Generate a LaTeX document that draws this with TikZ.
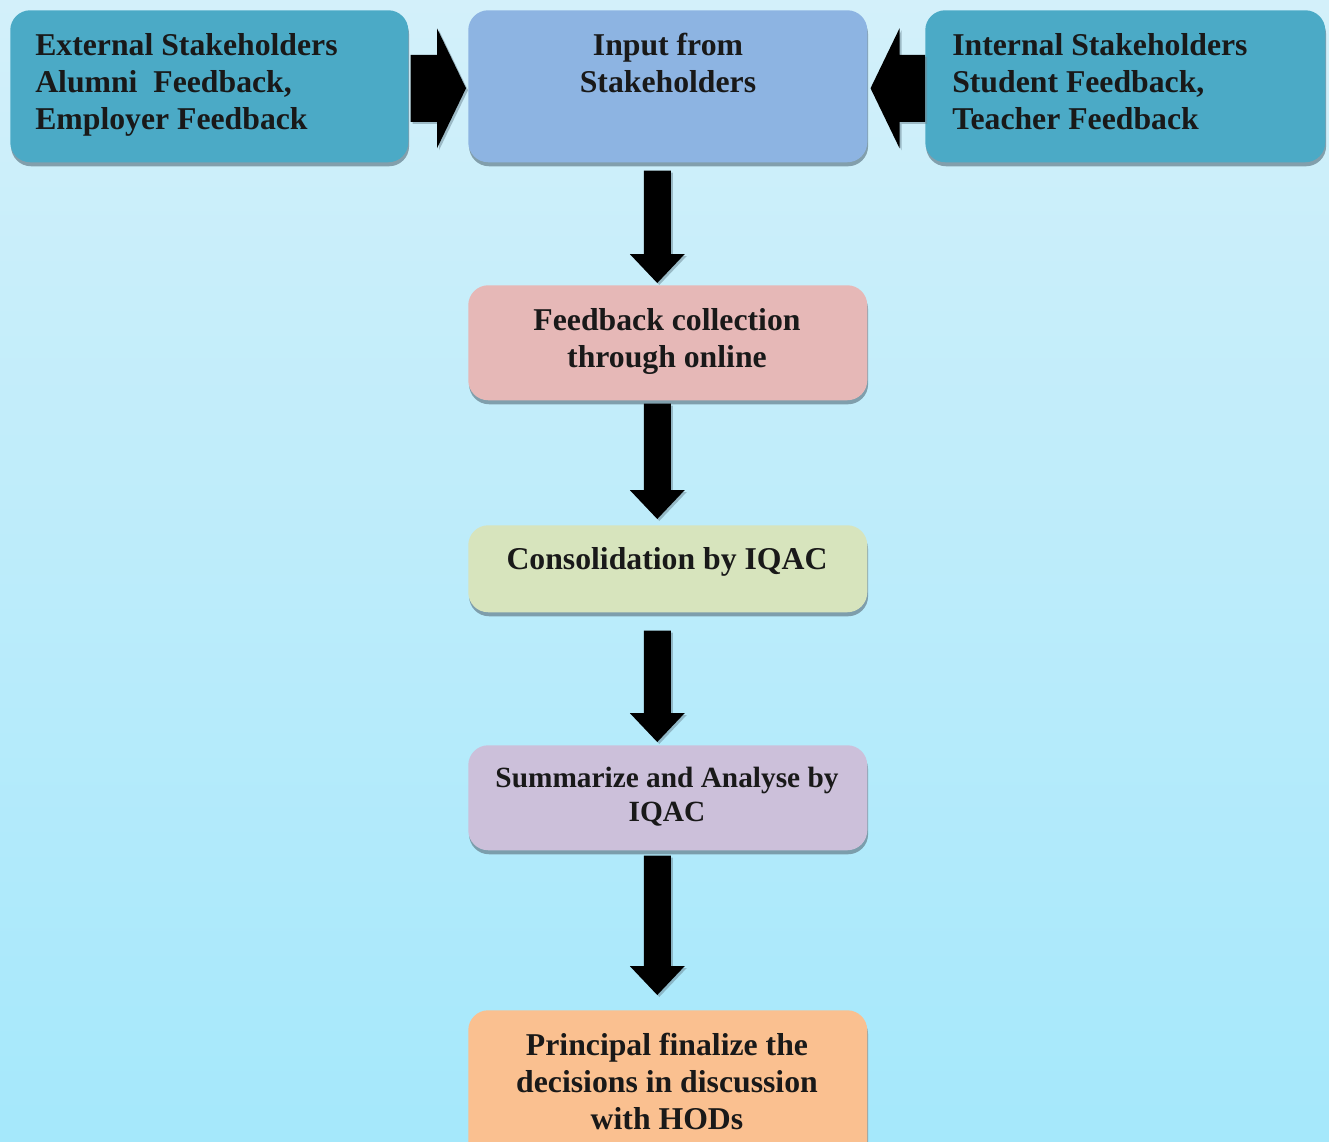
\documentclass[tikz,border=0pt]{standalone}
\usepackage{fontspec}
\setmainfont{Liberation Serif}
\usetikzlibrary{calc,shadows}
\definecolor{bgtop}{HTML}{D3F0FA}
\definecolor{bgbot}{HTML}{A5E8FB}
\definecolor{tealbox}{HTML}{4BAAC6}
\definecolor{bluebox}{HTML}{8DB4E2}
\definecolor{pinkbox}{HTML}{E6B8B7}
\definecolor{greenbox}{HTML}{D7E4BD}
\definecolor{lavbox}{HTML}{CCC0DA}
\definecolor{orangebox}{HTML}{FAC090}
\definecolor{shadowc}{HTML}{6A8592}
\newcommand\vfat[2]{%
  \fill[black,drop shadow={shadow xshift=1.5pt,shadow yshift=-1.5pt,fill=shadowc,opacity=0.5}]
    ($(#1)+(-13.5,0)$) -- ($(#2)+(-13.5,-29)$) -- ($(#2)+(-27.5,-29)$) -- (#2)
    -- ($(#2)+(27.5,-29)$) -- ($(#2)+(13.5,-29)$) -- ($(#1)+(13.5,0)$) -- cycle;}
\newcommand\hfat[3]{% start, tip, direction (+1 right, -1 left)
  \fill[black,drop shadow={shadow xshift=1.5pt,shadow yshift=-1.5pt,fill=shadowc,opacity=0.5}]
    ($(#1)+(0,-33.5)$) -- ($(#2)+(-29*#3,-33.5)$) -- ($(#2)+(-29*#3,-60)$) -- (#2)
    -- ($(#2)+(-29*#3,60)$) -- ($(#2)+(-29*#3,33.5)$) -- ($(#1)+(0,33.5)$) -- cycle;}
\begin{document}
\begin{tikzpicture}[x=0.75pt,y=-0.75pt,
  box/.style={anchor=north west, rounded corners=15pt, inner sep=0pt, draw=none,
    minimum width=299.25pt,
    drop shadow={shadow xshift=0.6pt,shadow yshift=-3pt,fill=shadowc,opacity=0.75}},
  txt/.style={inner sep=0pt, font=\bfseries\fontsize{23.8}{27.4}\selectfont, text=black!90}]
\shade[top color=bgtop, bottom color=bgbot] (0,0) rectangle (1329,1142);
\useasboundingbox (0,0) rectangle (1329,1142);

\node[box, fill=tealbox, minimum width=298.5pt, minimum height=114pt] (ext) at (10,10) {};
\node[box, fill=bluebox, minimum height=114pt] (inp) at (468,10) {};
\node[box, fill=tealbox, minimum width=300pt, minimum height=114pt] (int) at (925,10) {};
\node[box, fill=pinkbox, minimum height=86.25pt] (fb) at (468,285) {};
\node[box, fill=greenbox, minimum height=65.25pt] (con) at (468,525) {};
\node[box, fill=lavbox, minimum height=78.75pt] (sum) at (468,745) {};
\node[box, fill=orangebox, minimum height=120pt] (pri) at (468,1010) {};

% base anchor = baseline of the last line
\node[txt, align=left, anchor=base west] (extT) at (35,129)
  {External Stakeholders\\Alumni\ \ Feedback,\\Employer Feedback};
\node[txt, align=center, anchor=base] (inpT) at (668,92)
  {Input from\\Stakeholders};
\node[txt, align=left, anchor=base west] (intT) at (952,129)
  {Internal Stakeholders\\Student Feedback,\\Teacher Feedback};
\node[txt, align=center, anchor=base] (fbT) at (667,367)
  {Feedback collection\\through online};
\node[txt, align=center, anchor=base] (conT) at (667,569)
  {Consolidation by IQAC};
\node[txt, align=center, anchor=base, font=\bfseries\fontsize{22}{25.5}\selectfont] (sumT) at (667,821)
  {Summarize and Analyse by\\IQAC};
\node[txt, align=center, anchor=base] (priT) at (667,1129)
  {Principal finalize the\\decisions in discussion\\with HODs};

% horizontal arrows
\coordinate (la) at ($(ext.east)+(2,2)$);
\coordinate (lt) at ($(inp.west)+(-2,2)$);
\coordinate (ra) at ($(int.west)+(0,2)$);
\coordinate (rt) at ($(inp.east)+(3,2)$);
\hfat{la}{lt}{1}
\hfat{ra}{rt}{-1}

% vertical arrows
\coordinate (a1s) at ($(inp.south)+(-10.5,8)$);
\coordinate (a1e) at ($(fb.north)+(-10.5,-2)$);
\coordinate (a2s) at ($(fb.south)+(-10.5,3)$);
\coordinate (a2e) at ($(con.north)+(-10.5,-6)$);
\coordinate (a3s) at ($(con.south)+(-10.5,18)$);
\coordinate (a3e) at ($(sum.north)+(-10.5,-3)$);
\coordinate (a4s) at ($(sum.south)+(-10.5,5)$);
\coordinate (a4e) at ($(pri.north)+(-10.5,-15)$);
\vfat{a1s}{a1e}
\vfat{a2s}{a2e}
\vfat{a3s}{a3e}
\vfat{a4s}{a4e}
\end{tikzpicture}
\end{document}
